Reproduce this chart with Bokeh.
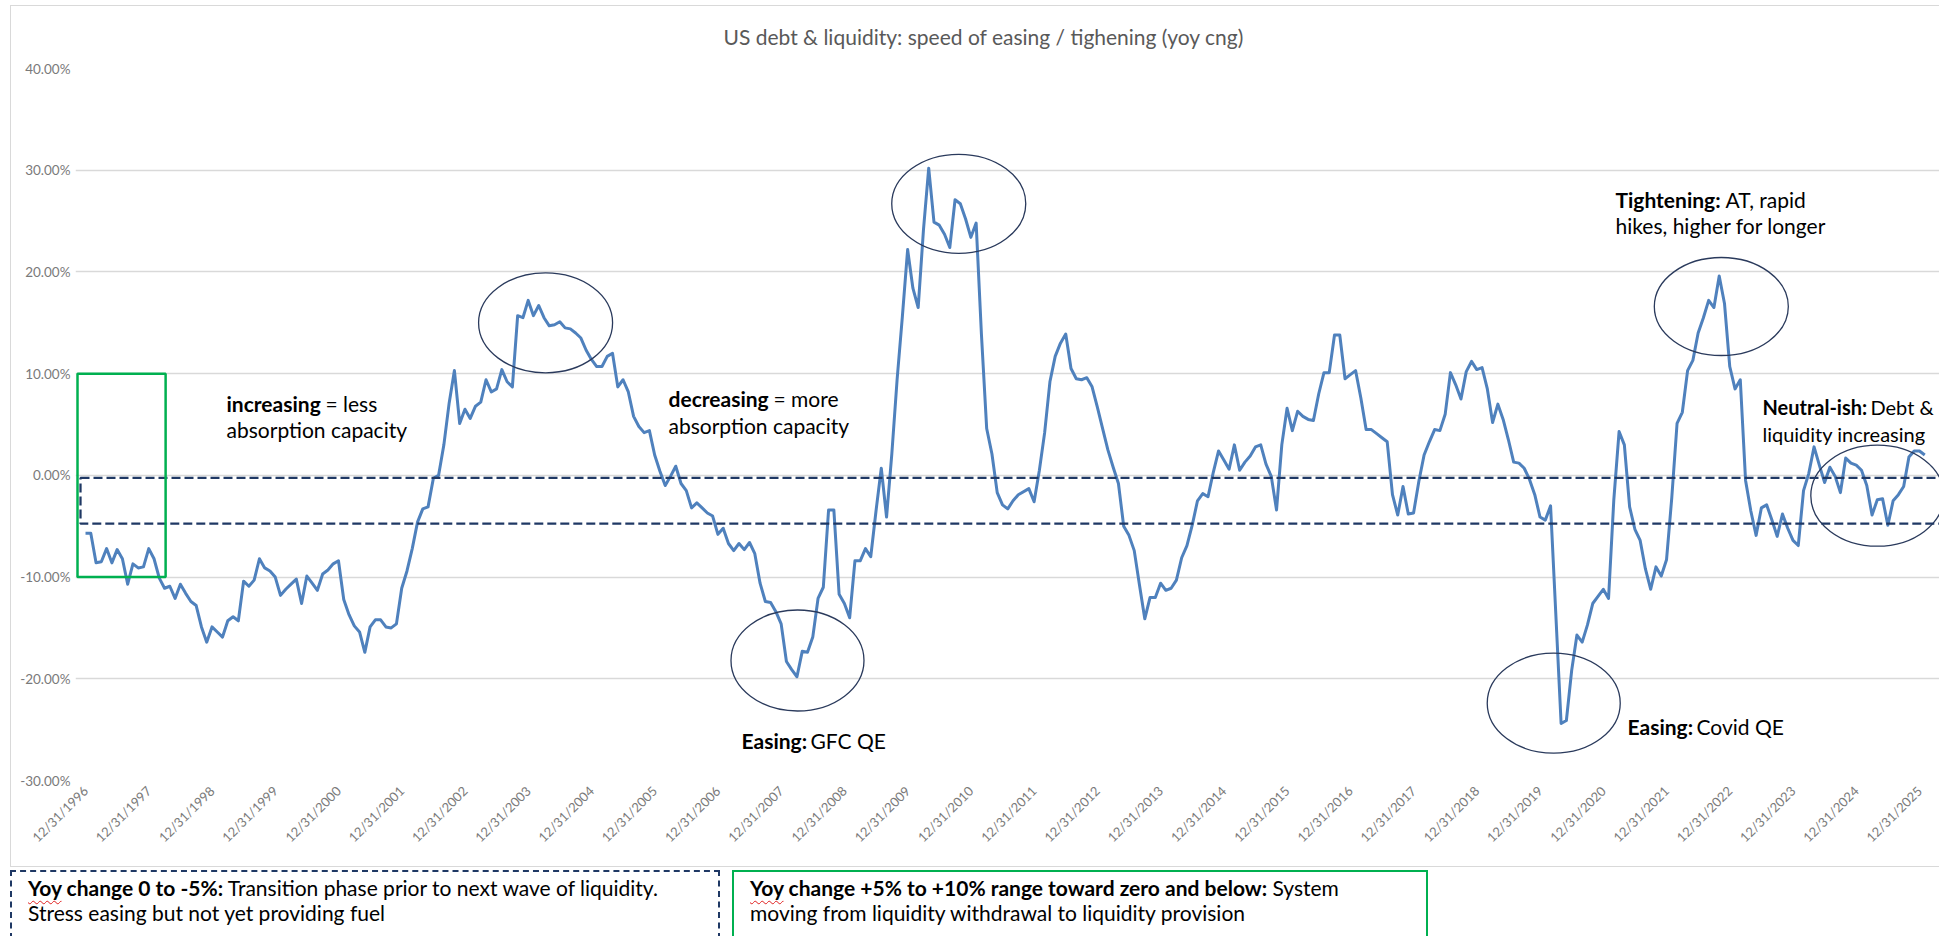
import math
from bokeh.plotting import figure
from bokeh.layouts import column
from bokeh.models import Range1d, Label, BoxAnnotation, FixedTicker, PrintfTickFormatter, Title, Div
from bokeh.embed import file_html
from bokeh.resources import INLINE

# ---- data: months since 12/31/1996 and yoy change (%) ----
month_offset = list(range(0, 178)) + list(range(179, 279)) + list(range(280, 350))
yoy_pct = [
    -5.7, -5.7, -8.6, -8.5, -7.2, -8.6, -7.3, -8.2, -10.7, -8.7,
    -9.1, -9.0, -7.2, -8.2, -10.1, -11.1, -10.9, -12.1, -10.7, -11.6,
    -12.4, -12.8, -14.9, -16.4, -14.9, -15.4, -15.9, -14.3, -13.9, -14.3,
    -10.4, -10.9, -10.3, -8.2, -9.1, -9.4, -10.0, -11.8, -11.2, -10.7,
    -10.2, -12.6, -9.9, -10.6, -11.3, -9.7, -9.3, -8.7, -8.4, -12.2,
    -13.7, -14.8, -15.4, -17.4, -14.9, -14.2, -14.2, -14.9, -15.0, -14.6,
    -11.1, -9.4, -7.2, -4.6, -3.3, -3.1, -0.3, 0.0, 3.0, 7.1,
    10.3, 5.1, 6.5, 5.6, 6.8, 7.2, 9.4, 8.2, 8.5, 10.4,
    9.2, 8.7, 15.7, 15.5, 17.2, 15.7, 16.7, 15.5, 14.7, 14.8,
    15.1, 14.5, 14.4, 14.0, 13.5, 12.3, 11.4, 10.7, 10.7, 11.7,
    12.0, 8.7, 9.4, 8.2, 5.8, 4.8, 4.2, 4.4, 2.0, 0.4,
    -1.0, -0.1, 0.9, -0.8, -1.5, -3.2, -2.7, -3.2, -3.7, -4.0,
    -5.8, -5.2, -6.7, -7.4, -6.7, -7.3, -6.6, -7.7, -10.6, -12.4,
    -12.5, -13.4, -14.6, -18.3, -19.1, -19.8, -17.3, -17.4, -15.9, -12.1,
    -11.0, -3.4, -3.4, -11.7, -12.6, -14.0, -8.4, -8.4, -7.2, -8.0,
    -3.5, 0.7, -4.1, 2.1, 9.4, 15.6, 22.2, 18.4, 16.5, 24.1,
    30.2, 24.9, 24.6, 23.7, 22.4, 27.1, 26.7, 25.2, 23.4, 24.8,
    13.9, 4.6, 2.1, -1.7, -2.9, -3.3, -2.5, -1.9,
    # from month 179
    -1.3, -2.6, 0.5, 4.2, 9.2, 11.7, 13.0, 13.9, 10.5, 9.5,
    9.4, 9.6, 8.7, 6.7, 4.6, 2.5, 0.8, -0.8, -5.0, -5.9,
    -7.4, -10.8, -14.1, -12.0, -12.0, -10.6, -11.3, -11.1, -10.3, -8.1,
    -6.9, -4.9, -2.5, -1.8, -2.1, 0.3, 2.4, 1.5, 0.6, 3.0,
    0.5, 1.3, 1.9, 2.8, 3.0, 1.1, -0.1, -3.4, 3.0, 6.6,
    4.4, 6.3, 5.8, 5.5, 5.4, 8.0, 10.1, 10.1, 13.8, 13.8,
    9.5, 9.9, 10.3, 7.6, 4.5, 4.5, 4.1, 3.7, 3.3, -1.9,
    -3.9, -1.1, -3.8, -3.7, -0.6, 2.0, 3.3, 4.5, 4.4, 6.0,
    10.1, 8.9, 7.5, 10.2, 11.2, 10.4, 10.6, 8.5, 5.2, 7.0,
    5.5, 3.5, 1.3, 1.2, 0.7, -0.4, -1.9, -4.1, -4.4, -3.0,
    # from month 280
    -24.4, -24.1, -19.2, -15.7, -16.4, -14.7, -12.6, -11.9, -11.2, -12.1,
    -2.4, 4.3, 3.0, -3.1, -5.3, -6.4, -9.2, -11.2, -9.0, -9.9,
    -8.3, -2.2, 5.1, 6.2, 10.3, 11.3, 14.0, 15.5, 17.2, 16.5,
    19.6, 16.9, 10.7, 8.5, 9.4, -0.5, -3.5, -5.9, -3.2, -2.9,
    -4.4, -6.0, -3.8, -5.2, -6.4, -6.9, -1.5, 0.2, 2.8, 1.0,
    -0.7, 0.8, -0.1, -1.7, 1.7, 1.2, 1.0, 0.5, -1.0, -3.9,
    -2.4, -2.3, -4.9, -2.5, -1.9, -1.1, 1.8, 2.4, 2.4, 2.0,
]
assert len(month_offset) == len(yoy_pct)

year_tick_offsets = [12 * i for i in range(30)]
year_labels = [
    "12/31/1996", "12/31/1997", "12/31/1998", "12/31/1999", "12/31/2000",
    "12/31/2001", "12/31/2002", "12/31/2003", "12/31/2004", "12/31/2005",
    "12/31/2006", "12/31/2007", "12/31/2008", "12/31/2009", "12/31/2010",
    "12/31/2011", "12/31/2012", "12/31/2013", "12/31/2014", "12/31/2015",
    "12/31/2016", "12/31/2017", "12/31/2018", "12/31/2019", "12/31/2020",
    "12/31/2021", "12/31/2022", "12/31/2023", "12/31/2024", "12/31/2025",
]
y_ticks = [-30, -20, -10, 0, 10, 20, 30, 40]

TITLE = "US debt & liquidity: speed of easing / tighening (yoy cng)"
NOTE1_BOLD = "Yoy change 0 to -5%:"
NOTE1_REST = "Transition phase prior to next wave of liquidity."
NOTE1_LINE2 = "Stress easing but not yet providing fuel"
NOTE2_BOLD = "Yoy change +5% to +10% range toward zero and below:"
NOTE2_REST = "System"
NOTE2_LINE2 = "moving from liquidity withdrawal to liquidity provision"

FONT = "Lato"
NAVY = "#1f3864"
GREEN = "#00b050"
ELL = "#2a3a5c"
W = 1939

# ---------------- main chart ----------------
p = figure(width=W, height=866, x_range=Range1d(-1.90, 351.8), y_range=Range1d(-30, 40),
           output_backend="svg", toolbar_location=None,
           min_border_left=75, min_border_right=0, min_border_top=68, min_border_bottom=86)
p.title = Title(text=TITLE, align="left", offset=648, standoff=40, text_font=FONT,
                text_font_size="21px", text_font_style="normal", text_color="#595959")
p.outline_line_color = None
p.background_fill_color = "white"
p.border_fill_color = None
p.styles = {
    "background": "linear-gradient(#d9d9d9,#d9d9d9) 10px 5px / 1px 861px no-repeat, "
                  "linear-gradient(#d9d9d9,#d9d9d9) 10px 5px / 1929px 1px no-repeat, #ffffff"
}

p.xgrid.grid_line_color = None
p.ygrid.ticker = FixedTicker(ticks=y_ticks)
p.ygrid.grid_line_color = "#d9d9d9"
p.ygrid.grid_line_width = 1.3

p.yaxis.ticker = FixedTicker(ticks=y_ticks)
p.yaxis.formatter = PrintfTickFormatter(format="%.2f%%")
p.yaxis.axis_line_color = None
p.yaxis.major_tick_line_color = None
p.yaxis.minor_tick_line_color = None
p.yaxis.major_tick_out = 0
p.yaxis.major_label_standoff = 5
p.yaxis.major_label_text_font = FONT
p.yaxis.major_label_text_font_size = "13.5px"
p.yaxis.major_label_text_color = "#7a7a7a"

p.xaxis.ticker = FixedTicker(ticks=year_tick_offsets)
p.xaxis.major_label_overrides = {t: lab for t, lab in zip(year_tick_offsets, year_labels)}
p.xaxis.major_label_orientation = math.pi / 4
p.xaxis.axis_line_color = None
p.xaxis.major_tick_line_color = None
p.xaxis.minor_tick_line_color = None
p.xaxis.major_tick_out = 0
p.xaxis.major_label_standoff = 8
p.xaxis.major_label_text_font = FONT
p.xaxis.major_label_text_font_size = "13px"
p.xaxis.major_label_text_color = "#7a7a7a"

# range bands
p.add_layout(BoxAnnotation(left=-0.95, right=400, top=-0.25, bottom=-4.75, fill_color=None,
                           line_color=NAVY, line_alpha=1.0, line_width=2.25, line_dash="9 4"))
p.add_layout(BoxAnnotation(left=-1.52, right=15.2, top=10, bottom=-10, fill_color=None,
                           line_color=GREEN, line_alpha=1.0, line_width=2.5))

p.line(month_offset, yoy_pct, line_color="#4f81bd", line_width=3, line_join="round")

# highlight ellipses
ell_x = [87.3, 165.7, 135.1, 310.4, 278.6, 340.0]
ell_y = [15.0, 26.7, -18.2, 16.6, -22.4, -2.0]
ell_w = [134, 134, 133, 134, 133, 133]
ell_h = [100, 99, 101, 98, 100, 101]
p.ellipse(x=ell_x, y=ell_y, width=ell_w, height=ell_h, width_units="screen", height_units="screen",
          fill_color=None, line_color=ELL, line_width=1.3)


def put(x, y, text, bold=False, size="21px", color="#000000", align="left"):
    p.add_layout(Label(x=x, y=y, text=text, text_font=FONT, text_font_size=size,
                       text_font_style="bold" if bold else "normal", text_color=color,
                       text_align=align, text_baseline="middle", level="overlay"))


put(26.76, 7.03, "increasing", True); put(45.54, 7.03, "= less")
put(26.76, 4.47, "absorption capacity")
put(110.63, 7.52, "decreasing", True); put(130.55, 7.52, "= more")
put(110.63, 4.87, "absorption capacity")
put(124.48, -26.11, "Easing:", True); put(137.57, -26.11, "GFC QE")
put(290.32, 27.14, "Tightening:", True); put(311.20, 27.14, "AT, rapid")
put(290.32, 24.53, "hikes, higher for longer")
put(292.60, -24.73, "Easing:", True); put(305.69, -24.73, "Covid QE")
put(318.2, 6.74, "Neutral-ish:", True, size="20px"); put(338.7, 6.74, "Debt &", size="20px")
put(318.2, 4.03, "liquidity increasing", size="20px")

# ---------------- explanation strip below ----------------
wavy = "text-decoration:underline wavy #e02020;text-decoration-thickness:1px;text-underline-offset:4px;"
yoy = f'<span style="{wavy}">Yoy</span>'
strip_html = f"""
<div style="position:relative;width:{W}px;height:70px;overflow:hidden;font-family:Lato,sans-serif;
font-size:21px;line-height:25px;color:#000;white-space:nowrap;background:#fff;">
 <div style="position:absolute;left:10px;top:0;width:{W - 10}px;height:1px;background:#d9d9d9;"></div>
 <div style="position:absolute;left:10px;top:4px;width:710px;height:90px;border:2px dashed {NAVY};box-sizing:border-box;"></div>
 <div style="position:absolute;left:732px;top:4px;width:696px;height:90px;border:2px solid {GREEN};box-sizing:border-box;"></div>
 <div style="position:absolute;left:28px;top:9px;"><b>{yoy}{NOTE1_BOLD[3:]}</b> {NOTE1_REST}</div>
 <div style="position:absolute;left:28px;top:34px;">{NOTE1_LINE2}</div>
 <div style="position:absolute;left:750px;top:9px;"><b>{yoy}{NOTE2_BOLD[3:]}</b> {NOTE2_REST}</div>
 <div style="position:absolute;left:750px;top:34px;">{NOTE2_LINE2}</div>
</div>
"""
strip = Div(text=strip_html, width=W, height=70, margin=0)

layout = column(p, strip, spacing=0)
open("out.html", "w").write(file_html(layout, INLINE))
